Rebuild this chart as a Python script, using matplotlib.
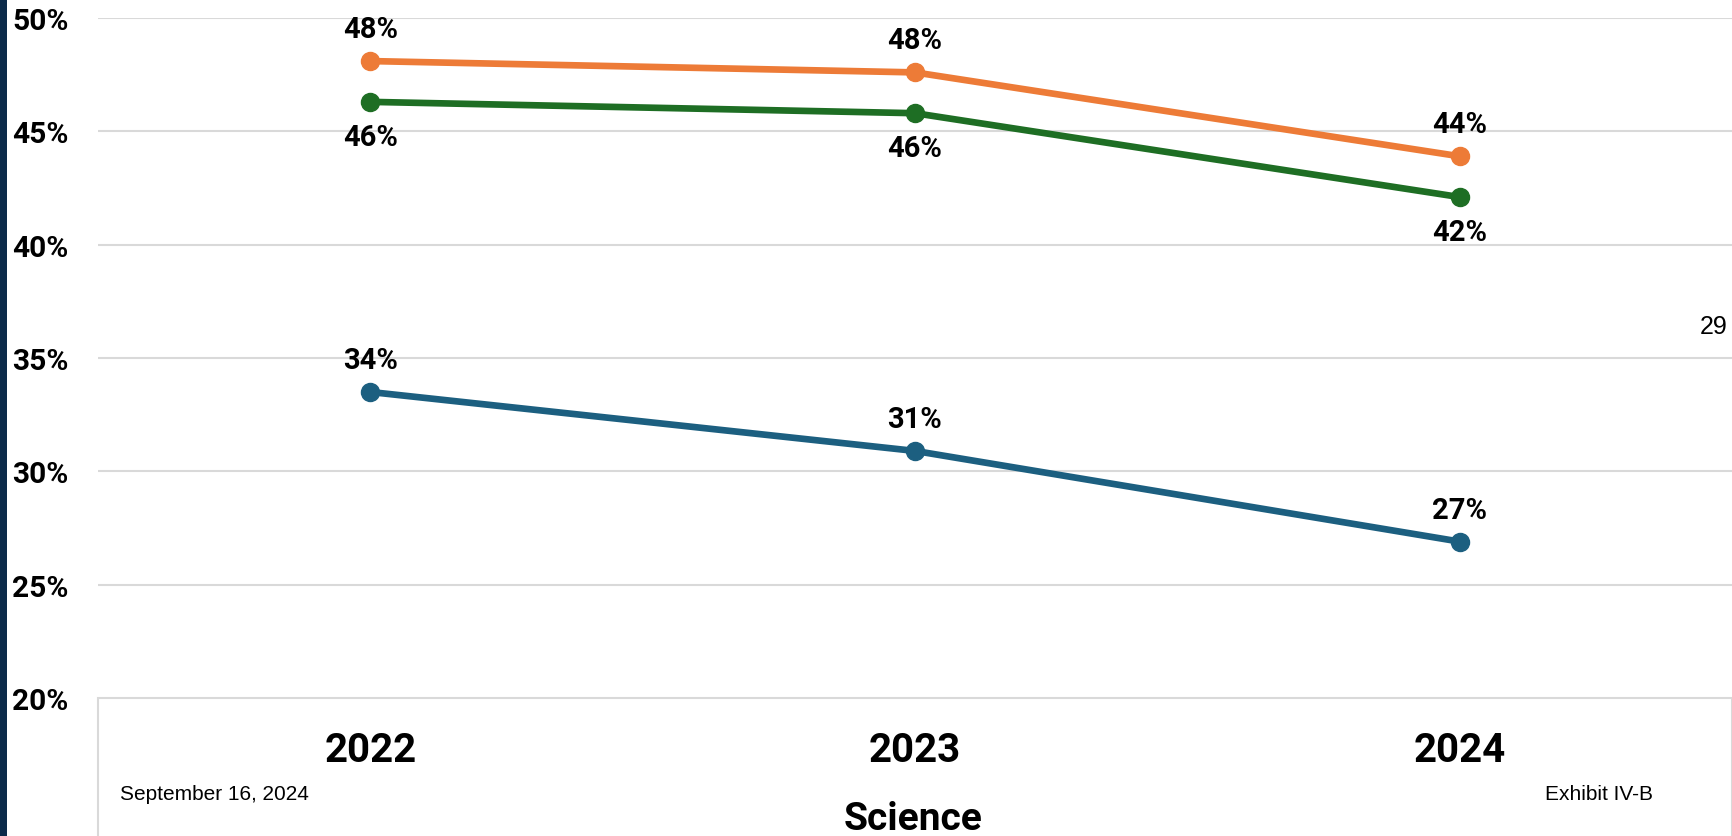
import matplotlib.pyplot as plt
from matplotlib.patches import Rectangle

# Science proficiency, three groups
years = ["2022", "2023", "2024"]
orange_vals = [48.1, 47.6, 43.9]
green_vals = [46.3, 45.8, 42.1]
blue_vals = [33.5, 30.9, 26.9]
orange_labels = ["48%", "48%", "44%"]
green_labels = ["46%", "46%", "42%"]
blue_labels = ["34%", "31%", "27%"]
yticks = [20, 25, 30, 35, 40, 45, 50]

W, H, DPI = 1733, 837, 100
fig = plt.figure(figsize=(W / DPI, H / DPI), dpi=DPI)

left, right = 98 / W, 1732 / W
top, bottom = 1 - 19 / H, 1 - 699 / H
ax = fig.add_axes([left, bottom, right - left, top - bottom])
ax.set_xlim(-0.5, 2.5)
ax.set_ylim(20, 50)
for s in ax.spines.values():
    s.set_visible(False)

for y in yticks[1:]:
    ax.axhline(y, color="#d9d9d9", lw=1.5, zorder=0)

x = range(len(years))
series = [
    (orange_vals, orange_labels, "#ED7B37", 23),
    (green_vals, green_labels, "#1E6E24", -25),
    (blue_vals, blue_labels, "#1C5F80", 23),
]
for vals, labs, col, off in series:
    ax.plot(x, vals, color=col, lw=4.8, marker="o", ms=13, zorder=3,
            clip_on=False)
    for xi, v, t in zip(x, vals, labs):
        ax.annotate(t, (xi, v), xytext=(0, off), textcoords="offset points",
                    ha="center", va="center", fontsize=21,
                    fontweight="bold", family="Roboto")

ax.set_yticks(yticks)
ax.set_yticklabels([f"{v}%" for v in yticks], family="Roboto",
                   fontweight="bold", fontsize=21.5, ha="left")
ax.tick_params(axis="y", length=0, pad=62)

ax.set_xticks(list(x))
ax.set_xticklabels(years, family="Roboto", fontweight="bold", fontsize=29)
ax.tick_params(axis="x", length=0, pad=24)

# bottom box of the slide area
fig.add_artist(Rectangle((left, -0.01), right - left, bottom + 0.01,
                         transform=fig.transFigure, fill=False,
                         ec="#d9d9d9", lw=1.5))
# dark strip on the left edge
fig.add_artist(Rectangle((0, 0), 7 / W, 1, transform=fig.transFigure,
                         color="#0B2A4A", lw=0))

fig.text(913 / W, 1 - 820 / H, "Science", family="Roboto",
         fontweight="bold", fontsize=28, ha="center", va="center")
fig.text(120 / W, 1 - 795 / H, "September 16, 2024",
         family="Liberation Sans", fontsize=15, ha="left", va="center")
fig.text(1545 / W, 1 - 795 / H, "Exhibit IV-B",
         family="Liberation Sans", fontsize=15, ha="left", va="center")
fig.text(1728 / W, 1 - 327 / H, "29", family="Liberation Sans",
         fontsize=18, ha="right", va="center")

fig.savefig("out.png", dpi=DPI)
